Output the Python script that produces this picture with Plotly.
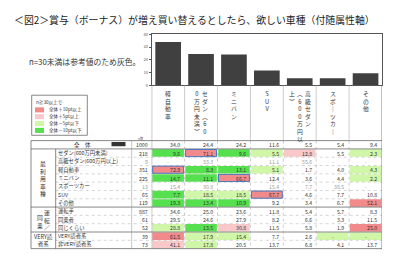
import plotly.graph_objects as go

W, H = 400, 267
def px(x): return x / W
def py(y): return 1 - y / H

FONT = "Noto Sans CJK JP"

title = "＜図2＞賞与（ボーナス）が増え買い替えるとしたら、欲しい車種（付随属性軸）"
note = "n=30未満は参考値のため灰色。"

# ---- data ----
categories = ["軽自動車", "セダン（600万円未満）", "ミニバン", "SUV",
              "高級セダン（600万円以上）", "スポーツカー", "その他"]
# vertical header text, columns read right -> left
cat_vertical = [["軽自動車"], ["セダン︵60", "0万円未満︶"], ["ミニバン"], ["SUV"],
                ["高級セダン", "︵600万円以", "上︶"], ["スポ｜ツカ｜"], ["その他"]]
total_label = "全　体"
total_n = 1000
overall = [34.0, 24.4, 24.2, 11.6, 5.5, 5.4, 9.4]

row_labels = ["セダン(600万円未満)", "高級セダン(600万円以上)", "軽自動車", "ミニバン",
              "スポーツカー", "SUV", "その他", "運転手", "同乗者", "同じくらい",
              "VERY読者系", "非VERY読者系"]
row_n = [218, 9, 351, 225, 13, 65, 119, 887, 61, 52, 39, 73]
row_values = [
    [9.6, 71.1, 9.6, 5.5, 12.8, 5.5, 2.3],
    [None, 33.3, None, 11.1, 55.6, None, None],
    [72.9, 8.3, 13.1, 5.1, 1.7, 4.0, 4.3],
    [14.7, 11.1, 66.7, 12.4, 3.6, 4.4, 2.2],
    [15.4, 30.8, None, 15.4, 7.7, 38.5, None],
    [7.7, 18.5, 18.5, 67.7, 4.6, 7.7, 10.8],
    [19.3, 13.4, 10.9, 9.2, 3.4, 6.7, 52.1],
    [34.6, 25.0, 23.6, 11.8, 5.4, 5.7, 8.3],
    [29.5, 24.6, 27.9, 8.2, 6.6, 3.3, 11.5],
    [28.8, 13.5, 30.8, 11.5, 5.8, 1.9, 25.0],
    [61.5, 17.9, 15.4, 7.7, 2.6, None, None],
    [41.1, 17.8, 20.5, 13.7, 6.8, 4.1, 13.7],
]
# groups: (vertical text columns right->left, first row, last row exclusive)
groups = [(["最利用車種"], 0, 7), (["運転／", "同乗"], 7, 10), (None, 10, 12)]
very_group = "VERY読<br>者系"
boxed = [(0, 1), (2, 0), (3, 2), (5, 3)]

legend_title = "n≧30以上で"
legend_items = ["全体＋10pt以上", "全体＋5pt以上", "全体－5pt以下", "全体－10pt以下"]
C_RED, C_PINK, C_LG, C_G = "#F28A8C", "#F9C8C9", "#D0F7A8", "#55E04E"
legend_colors = [C_RED, C_PINK, C_LG, C_G]

# ---- layout constants (pixels) ----
X_TBL_L, X_GRP_R, X_LBL_R, X_N_R = 31, 55.7, 131.7, 151.7
X_PLOT_R = 382
Y_PLOT_T, Y_PLOT_B = 31, 83
Y_TBL_T, RH = 139.75, 8.5
NROWS = len(row_labels) + 1
Y_TBL_B = Y_TBL_T + NROWS * RH

fig = go.Figure()
fig.add_trace(go.Bar(x=categories, y=overall, marker=dict(color="#404040", line=dict(width=0)),
                     hoverinfo="skip"))

shapes, ann = [], []

def hline(y, x0, x1, color="#555", width=0.7, dash="solid", xref="paper"):
    shapes.append(dict(type="line", xref=xref, yref="paper", x0=x0, x1=x1, y0=py(y), y1=py(y),
                       line=dict(color=color, width=width, dash=dash), layer="above"))

def vline(x, y0, y1, color="#555", width=0.7, dash="solid", xref="paper"):
    shapes.append(dict(type="line", xref=xref, yref="paper", x0=x, x1=x, y0=py(y0), y1=py(y1),
                       line=dict(color=color, width=width, dash=dash), layer="above"))

def text(x, y, s, size=5.3, color="#333", xanchor="left", yanchor="middle", xref="paper", align="left"):
    ann.append(dict(x=x, y=y, xref=xref, yref="paper", text=s, showarrow=False,
                    xanchor=xanchor, yanchor=yanchor, align=align,
                    font=dict(family=FONT, size=size, color=color), borderpad=0))

def cell_color(v, base):
    if v is None:
        v = 0.0
    d = v - base
    if d >= 10: return C_RED
    if d >= 5: return C_PINK
    if d <= -10: return C_G
    if d <= -5: return C_LG
    return None

ncat = len(categories)
# ---- vertical category headers ----
step = 8 / ((X_PLOT_R - X_N_R) / ncat)
for i, cols in enumerate(cat_vertical):
    k = len(cols)
    for j, c in enumerate(cols):
        xx = i + ((k - 1) / 2 - j) * step
        text(xx, py(85.5), "<br>".join(list(c)), size=5.8, xanchor="center", yanchor="top",
             xref="x", align="center")

# ---- cell fills ----
def row_center(r):
    return Y_TBL_T + (r + 0.5) * RH

for r, vals in enumerate(row_values):
    if row_n[r] < 30:
        continue
    for i, v in enumerate(vals):
        c = cell_color(v, overall[i])
        if c:
            shapes.append(dict(type="rect", xref="x", yref="paper", x0=i - 0.48, x1=i + 0.48,
                               y0=py(Y_TBL_T + (r + 1) * RH + 0.4), y1=py(Y_TBL_T + (r + 2) * RH - 0.4),
                               fillcolor=c, line=dict(width=0), layer="below"))

# ---- grid lines ----
for r in range(1, NROWS):
    y = Y_TBL_T + r * RH
    if r in (1, 8, 11):
        hline(y, px(X_TBL_L), px(X_PLOT_R), width=0.7)
    else:
        hline(y, px(X_GRP_R), px(X_PLOT_R), color="#aaa", width=0.5, dash="dot")
hline(Y_TBL_T, px(X_TBL_L), px(X_PLOT_R))
hline(Y_TBL_B, px(X_TBL_L), px(X_PLOT_R))
vline(px(X_TBL_L), Y_TBL_T, Y_TBL_B)
vline(px(X_GRP_R), Y_TBL_T + RH, Y_TBL_B)
vline(px(X_LBL_R), Y_TBL_T, Y_TBL_B, color="#888", width=0.5)
for i in range(ncat + 1):
    x = i - 0.5
    if i in (0, ncat):
        vline(x, Y_PLOT_B, Y_TBL_B, xref="x")
    else:
        vline(x, Y_PLOT_B, Y_TBL_T, color="#999", width=0.5, xref="x")
        vline(x, Y_TBL_T, Y_TBL_B, color="#999", width=0.5, dash="dot", xref="x")

# boxes
for r, i in boxed:
    shapes.append(dict(type="rect", xref="x", yref="paper", x0=i - 0.47, x1=i + 0.47,
                       y0=py(Y_TBL_T + (r + 1) * RH + 0.6), y1=py(Y_TBL_T + (r + 2) * RH - 0.6),
                       line=dict(color="#4A78C2", width=1), fillcolor="rgba(0,0,0,0)", layer="above"))

# ---- table text ----
text(px(141), py(137.3), "n数", size=3.2, color="#666", xanchor="center")
text(px(82), py(row_center(0)), total_label, size=5.5, xanchor="center")
shapes.append(dict(type="rect", xref="paper", yref="paper", x0=px(111.5), x1=px(125.5),
                   y0=py(145.5), y1=py(141.2), fillcolor="#333", line=dict(width=0)))
text(px(148.5), py(row_center(0)), str(total_n), size=5.2, xanchor="right")
for i, v in enumerate(overall):
    text(i + 0.39, py(row_center(0)), f"{v:.1f}", size=5.2, xanchor="right", xref="x")

for r, lab in enumerate(row_labels):
    yc = py(row_center(r + 1))
    gray = row_n[r] < 30
    col = "#999" if gray else "#333"
    text(px(57), yc, lab, size=5.3, color="#333")
    text(px(148.5), yc, str(row_n[r]), size=5.2, color=col, xanchor="right")
    for i, v in enumerate(row_values[r]):
        if v is None:
            text(i, yc, "-", size=5.2, color=col, xanchor="center", xref="x")
        else:
            text(i + 0.39, yc, f"{v:.1f}", size=5.2, color=col, xanchor="right", xref="x")

# group labels
for cols, r0, r1 in groups:
    yc = (row_center(r0 + 1) + row_center(r1)) / 2
    if cols is None:
        text(px(43.3), py(yc), very_group, size=5.5, xanchor="center", align="center")
        continue
    k = len(cols)
    for j, c in enumerate(cols):
        xx = 43.3 + ((k - 1) / 2 - j) * 7.5
        text(px(xx), py(yc + (1.5 if j > 0 else 0)), "<br>".join(list(c)), size=5.8,
             xanchor="center", align="center")

# ---- legend box ----
shapes.append(dict(type="rect", xref="paper", yref="paper", x0=px(31.7), x1=px(87.3),
                   y0=py(134.3), y1=py(93.3), line=dict(color="#555", width=0.7)))
text(px(35), py(100.5), legend_title, size=4.6)
for k, (lab, c) in enumerate(zip(legend_items, legend_colors)):
    yc = 108.3 + k * 7.0
    shapes.append(dict(type="rect", xref="paper", yref="paper", x0=px(35), x1=px(44),
                       y0=py(yc + 2.6), y1=py(yc - 2.6), fillcolor=c, line=dict(width=0)))
    text(px(48), py(yc), lab, size=4.6)

# ---- title / note ----
text(px(13), py(16.5), title, size=9.9, color="#222")
text(px(28), py(58.5), note, size=7.8, color="#333")

fig.update_layout(
    width=W, height=H, margin=dict(l=0, r=0, t=0, b=0),
    paper_bgcolor="white", plot_bgcolor="white",
    showlegend=False, bargap=0.22,
    shapes=shapes, annotations=ann,
    xaxis=dict(domain=[px(X_N_R), px(X_PLOT_R)], range=[-0.5, ncat - 0.5], showticklabels=False,
               ticks="", showline=True, mirror=True, linecolor="#555", linewidth=0.8,
               showgrid=False, zeroline=False, fixedrange=True),
    yaxis=dict(domain=[py(Y_PLOT_B), py(Y_PLOT_T)], range=[0, 40], tickvals=[0, 10, 20, 30, 40],
               ticksuffix="%", tickfont=dict(family=FONT, size=4, color="#555"),
               ticks="outside", ticklen=2, tickcolor="#555", showline=True, mirror=True,
               linecolor="#555", linewidth=0.8, showgrid=False, zeroline=False, fixedrange=True),
)
fig.write_html("out.html")
